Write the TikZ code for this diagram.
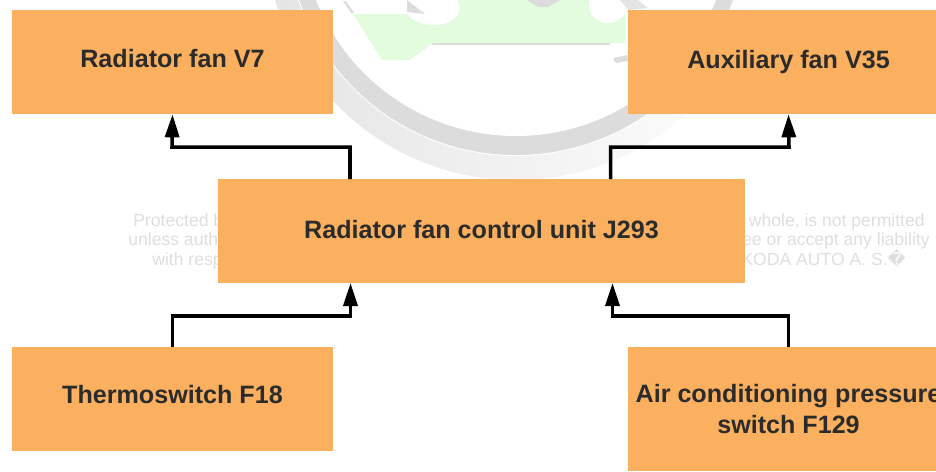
\documentclass[tikz,border=0pt]{standalone}
\usepackage{fontspec}
\setmainfont{Liberation Sans}
\newfontfamily\glyphfont{DejaVu Sans}
\usetikzlibrary{arrows.meta}
\definecolor{boxorange}{HTML}{FBB05F}
\definecolor{labelgrey}{HTML}{2B2B2B}
\definecolor{markgrey}{HTML}{DCDCDC}
\definecolor{markpale}{HTML}{E4E4E4}
\definecolor{markgreen}{HTML}{E3FCDD}
\definecolor{notegrey}{HTML}{DEDEDE}
\newcommand{\unitlift}[2]{\raisebox{#1pt}{#2}}
\begin{document}
\begin{tikzpicture}[x=0.02cm,y=-0.02cm]
  \tikzset{unitbox/.style={rectangle,fill=boxorange,inner sep=0pt,minimum width=6.42cm,minimum height=2.08cm,align=center,text=labelgrey,font=\fontsize{14.3}{18}\selectfont\bfseries}}
  \tikzset{link/.style={draw=black,line width=2pt,-{Triangle[length=0.46cm,width=0.28cm]}}}
  \tikzset{note/.style={text=notegrey,font=\fontsize{10}{11}\selectfont,inner sep=0pt}}
  \useasboundingbox (0,0) rectangle (936,471);
  % watermark
  \shade[left color=markpale,middle color=markpale,right color=white] (516,-71) circle (251);
  \fill[white] (516,-74) circle (230);
  \fill[markgrey] (516,-74) circle (229);
  \fill[white] (516,-79) circle (215);
  \fill[markgreen] (353,14) -- (420,14) -- (420,0) -- (625,0) -- (625,43) -- (433,43) -- (410,60) -- (382,60) -- cycle;
  \fill[white] (433,8) ellipse (27 and 17);
  \fill[white] (608,6) ellipse (19 and 17);
  \fill[markgrey] (527,0) -- (560,0) -- (548,7) -- (538,7) -- cycle;
  \fill[markgrey] (433,43) -- (610,43) -- (610,45) -- (431,45) -- cycle;
  \fill[markgrey] (613,58) -- (633,54) -- (633,60) -- (616,63) -- cycle;
  \fill[markgrey] (343,1) -- (346,1) -- (354,13) -- (351,13) -- cycle;
  \fill[markgrey] (407,0) -- (425,14) -- (407,12) -- cycle;
  \fill[markpale] (620,0) -- (638,0) -- (648,8) -- (628,10) -- cycle;
  \node[note,anchor=base west] (noteone) at (133,226) {Protected by};
  \node[note,anchor=base west] (notetwo) at (128,245.5) {unless authorised};
  \node[note,anchor=base west] (notethree) at (152,265.5) {with respect};
  \node[note,anchor=base east] (notefour) at (925,226) {whole, is not permitted};
  \node[note,anchor=base east] (notefive) at (930,245.5) {ee or accept any liability};
  \node[note,anchor=base east] (notesix) at (906,265.5) {ŠKODA AUTO A. S.{\glyphfont\char"FFFD}};
  % units
  \node[unitbox] (fanvseven) at (172.5,62) {\unitlift{4.5}{Radiator fan V7}};
  \node[unitbox] (fanvthirtyfive) at (788.5,62) {\unitlift{2.3}{Auxiliary fan V35}};
  \node[unitbox,minimum width=10.54cm] (controlunit) at (481.5,231) {\unitlift{2.3}{Radiator fan control unit J293}};
  \node[unitbox] (thermoswitch) at (172.5,399) {\unitlift{5.6}{Thermoswitch F18}};
  \node[unitbox,minimum height=2.48cm] (pressureswitch) at (788.5,409) {Air conditioning pressure\\switch F129};
  % connectors
  \coordinate (ctrlleft) at (350,179);
  \coordinate (ctrlright) at (610.5,179);
  \coordinate (ctrlinleft) at (350.5,283);
  \coordinate (ctrlinright) at (612.5,283);
  \draw[link] (ctrlleft) |- (172,147) -- (fanvseven.south);
  \draw[link] (ctrlright) |- (789,147) -- (fanvthirtyfive.south);
  \draw[link] (thermoswitch.north) |- (350.5,316) -- (ctrlinleft);
  \draw[link] (pressureswitch.north) |- (612.5,316) -- (ctrlinright);
\end{tikzpicture}
\end{document}
